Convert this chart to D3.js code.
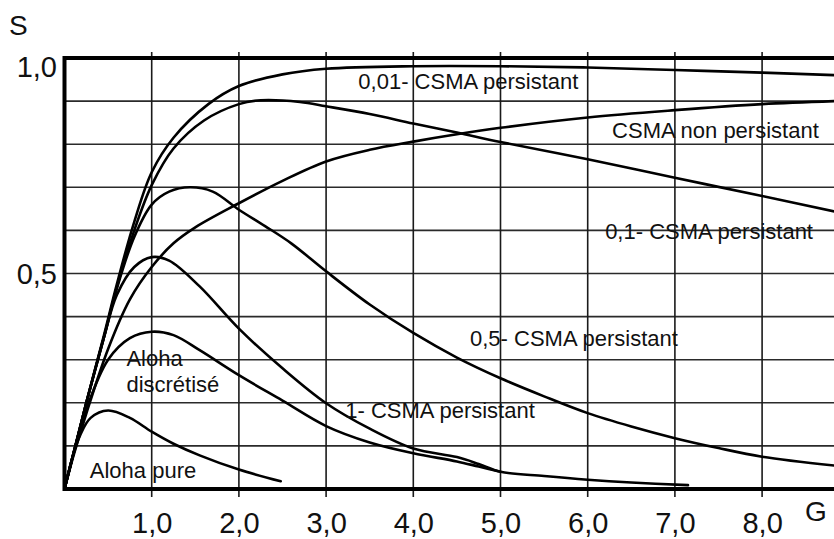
<!DOCTYPE html>
<html>
<head>
<meta charset="utf-8">
<script src="https://cdn.jsdelivr.net/npm/d3@7"></script>
<style>
  html, body { margin: 0; padding: 0; background: #fff; }
  svg { display: block; }
  text { font-family: "Liberation Sans", Arial, sans-serif; fill: #111; }
</style>
</head>
<body>
<svg id="chart" width="834" height="539"></svg>
<script>
// ---- data ----
const xTickValues = [1, 2, 3, 4, 5, 6, 7, 8];
const xTickLabels = ["1,0", "2,0", "3,0", "4,0", "5,0", "6,0", "7,0", "8,0"];
const yTickValues = [1.0, 0.5];
const yTickLabels = ["1,0", "0,5"];
const yGridValues = [0.1, 0.2, 0.3, 0.4, 0.5, 0.6, 0.7, 0.8, 0.9];

const seriesNames = [
  "0,01- CSMA persistant",
  "CSMA non persistant",
  "0,1- CSMA persistant",
  "0,5- CSMA persistant",
  "1- CSMA persistant",
  "Aloha discrétisé",
  "Aloha pure"
];

const g001 = [0, 0.1, 0.25, 0.45, 0.6, 0.8, 1.0, 1.25, 1.65, 2.0, 2.5, 3.0, 4.0, 5.0, 6.0, 7.0, 8.0, 8.85];
const s001 = [0, 0.08, 0.2, 0.355, 0.475, 0.62, 0.735, 0.815, 0.893, 0.935, 0.962, 0.975, 0.981, 0.981, 0.978, 0.972, 0.966, 0.96];

const gNonP = [0, 0.1, 0.25, 0.5, 0.75, 1.0, 1.25, 1.5, 2.0, 2.5, 3.0, 3.5, 4.0, 4.5, 5.0, 6.0, 7.0, 8.0, 8.85];
const sNonP = [0, 0.075, 0.175, 0.325, 0.44, 0.515, 0.57, 0.607, 0.663, 0.715, 0.76, 0.787, 0.806, 0.823, 0.838, 0.862, 0.879, 0.893, 0.9];

const g01 = [0, 0.1, 0.25, 0.45, 0.6, 0.8, 1.0, 1.25, 1.6, 2.0, 2.25, 2.7, 3.0, 3.5, 4.0, 4.5, 5.0, 6.0, 7.0, 8.0, 8.85];
const s01 = [0, 0.08, 0.2, 0.35, 0.468, 0.6, 0.705, 0.79, 0.855, 0.893, 0.902, 0.898, 0.888, 0.87, 0.848, 0.827, 0.805, 0.765, 0.722, 0.68, 0.643];

const g05 = [0, 0.1, 0.25, 0.45, 0.6, 0.8, 1.0, 1.2, 1.44, 1.7, 2.0, 2.3, 2.6, 3.0, 3.5, 4.0, 4.5, 5.0, 5.5, 6.0, 6.5, 7.0, 7.5, 8.0, 8.85];
const s05 = [0, 0.08, 0.2, 0.35, 0.465, 0.585, 0.66, 0.69, 0.70, 0.69, 0.648, 0.61, 0.57, 0.505, 0.428, 0.362, 0.305, 0.257, 0.215, 0.176, 0.145, 0.118, 0.095, 0.075, 0.054];

const g1 = [0, 0.1, 0.25, 0.45, 0.6, 0.8, 1.0, 1.2, 1.55, 2.0, 2.5, 3.0, 3.5, 4.0, 4.5, 4.75, 5.0, 5.5, 6.0, 6.5, 7.15];
const s1 = [0, 0.08, 0.2, 0.35, 0.45, 0.515, 0.538, 0.53, 0.47, 0.372, 0.28, 0.199, 0.14, 0.094, 0.074, 0.058, 0.04, 0.03, 0.0215, 0.015, 0.009];

const gAlohaD = [0, 0.1, 0.25, 0.5, 0.75, 1.0, 1.25, 1.55, 2.0, 2.5, 3.0, 3.5, 4.0, 4.5, 4.75, 5.0];
const sAlohaD = [0, 0.08, 0.185, 0.3, 0.35, 0.365, 0.357, 0.322, 0.264, 0.205, 0.146, 0.108, 0.083, 0.064, 0.052, 0.04];

const gAlohaP = [0, 0.1, 0.18, 0.3, 0.5, 0.75, 1.0, 1.25, 1.55, 2.0, 2.48];
const sAlohaP = [0, 0.08, 0.125, 0.165, 0.182, 0.165, 0.133, 0.105, 0.078, 0.045, 0.018];

const seriesG = [g001, gNonP, g01, g05, g1, gAlohaD, gAlohaP];
const seriesS = [s001, sNonP, s01, s05, s1, sAlohaD, sAlohaP];

// label anchors in data units (start x, baseline y)
const labelLines = [
  ["0,01- CSMA persistant"],
  ["CSMA non persistant"],
  ["0,1- CSMA persistant"],
  ["0,5- CSMA persistant"],
  ["1- CSMA persistant"],
  ["Aloha", "discrétisé"],
  ["Aloha pure"]
];
const labelG = [3.37, 6.28, 6.2, 4.65, 3.22, 0.71, 0.29];
const labelS = [0.928, 0.814, 0.58, 0.332, 0.165, 0.285, 0.026];

// ---- drawing ----
const svg = d3.select("#chart");
const x = d3.scaleLinear().domain([0, 8]).range([64.5, 762.1]);
const y = d3.scaleLinear().domain([0, 1]).range([489, 58]);
const xLeft = x(0) + 1, xRight = 834;

// horizontal grid
svg.append("g").selectAll("line").data(yGridValues).join("line")
  .attr("x1", xLeft).attr("x2", xRight)
  .attr("y1", d => y(d)).attr("y2", d => y(d))
  .attr("stroke", "#2a2a2a").attr("stroke-width", 1.6);

// vertical grid (extends a bit past the frame like ticks)
svg.append("g").selectAll("line").data(xTickValues).join("line")
  .attr("x1", d => x(d)).attr("x2", d => x(d))
  .attr("y1", y(1) - 6).attr("y2", y(0) + 8)
  .attr("stroke", "#1a1a1a").attr("stroke-width", 1.6);

// curves
const line = d3.line().curve(d3.curveCatmullRom.alpha(0.5));
seriesG.forEach((gs, i) => {
  const pts = gs.map((g, j) => [x(g), y(seriesS[i][j])]);
  svg.append("path").attr("d", line(pts))
    .attr("fill", "none").attr("stroke", "#000").attr("stroke-width", 2.6)
    .attr("stroke-linejoin", "round").attr("stroke-linecap", "round");
});

// frame: top, left, bottom
svg.append("line").attr("x1", x(0)).attr("x2", xRight).attr("y1", y(1)).attr("y2", y(1))
  .attr("stroke", "#000").attr("stroke-width", 4);
svg.append("line").attr("x1", x(0)).attr("x2", xRight).attr("y1", y(0)).attr("y2", y(0))
  .attr("stroke", "#000").attr("stroke-width", 4);
svg.append("line").attr("x1", x(0)).attr("x2", x(0)).attr("y1", y(1) - 2).attr("y2", y(0) + 2)
  .attr("stroke", "#000").attr("stroke-width", 4);

// x axis labels via d3 axis
const xAxis = d3.axisBottom(x).tickValues(xTickValues)
  .tickFormat((d, i) => xTickLabels[i]).tickSize(0);
const gx = svg.append("g").attr("transform", `translate(0,${y(0)})`).call(xAxis);
gx.select(".domain").remove();
gx.selectAll("text").attr("y", 44).attr("dy", null)
  .style("font-size", "29px").style("font-family", '"Liberation Sans", Arial, sans-serif').attr("fill", "#111");

// y axis labels
svg.append("g").selectAll("text").data(yTickValues).join("text")
  .attr("x", 57).attr("y", d => y(d) + (d === 1 ? 19 : 10))
  .attr("text-anchor", "end").style("font-size", "29px")
  .text((d, i) => yTickLabels[i]);

// axis titles
svg.append("text").attr("x", 9).attr("y", 35).style("font-size", "28px").text("S");
svg.append("text").attr("x", 805).attr("y", 521).style("font-size", "28px").text("G");

// curve labels
labelLines.forEach((lines, i) => {
  const t = svg.append("text").attr("x", x(labelG[i])).attr("y", y(labelS[i]))
    .style("font-size", "22px");
  lines.forEach((ln, k) => {
    t.append("tspan").attr("x", x(labelG[i])).attr("dy", k === 0 ? 0 : 26).text(ln);
  });
});
</script>
</body>
</html>
